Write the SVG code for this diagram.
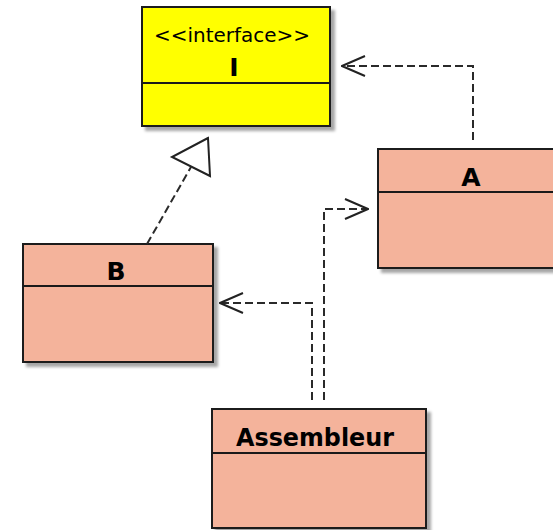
<svg xmlns="http://www.w3.org/2000/svg" width="553" height="530" viewBox="0 0 553 530">
  <defs>
    <filter id="shadow" x="-10%" y="-10%" width="130%" height="130%">
      <feDropShadow dx="4" dy="4" stdDeviation="1.5" flood-color="#000" flood-opacity="0.35"/>
    </filter>
    <marker id="open" viewBox="0 0 26 22" refX="25" refY="11" markerWidth="26" markerHeight="22" markerUnits="userSpaceOnUse" orient="auto">
      <path d="M2 1 L25 11 L2 21" fill="none" stroke="#222" stroke-width="2"/>
    </marker>
    <style>
      .box { stroke: #1a1a1a; stroke-width: 2; }
      .iface { fill: #FFFF00; }
      .cls { fill: #F4B39B; }
      .sep { stroke: #1a1a1a; stroke-width: 2; }
      .name { font-family: "DejaVu Sans", sans-serif; font-weight: bold; font-size: 25px; fill: #000; text-anchor: middle; }
      .stereo { font-family: "DejaVu Sans", sans-serif; font-size: 20px; fill: #000; text-anchor: middle; }
      .dep { fill: none; stroke: #2a2a2a; stroke-width: 2; stroke-dasharray: 8 4; }
    </style>
  </defs>
  <rect width="553" height="530" fill="#fff"/>

  <!-- interface I -->
  <g id="I">
    <rect class="box iface" x="142" y="7" width="188" height="119" filter="url(#shadow)"/>
    <line class="sep" x1="142" y1="83" x2="330" y2="83"/>
    <text class="stereo" x="232" y="42" textLength="156" lengthAdjust="spacingAndGlyphs">&lt;&lt;interface&gt;&gt;</text>
    <text class="name" x="234" y="76">I</text>
  </g>

  <!-- class A -->
  <g id="A">
    <rect class="box cls" x="378" y="149" width="190" height="119" filter="url(#shadow)"/>
    <line class="sep" x1="378" y1="192" x2="568" y2="192"/>
    <text class="name" x="471" y="186">A</text>
  </g>

  <!-- class B -->
  <g id="B">
    <rect class="box cls" x="23" y="244" width="190" height="118" filter="url(#shadow)"/>
    <line class="sep" x1="23" y1="286" x2="213" y2="286"/>
    <text class="name" x="116" y="280">B</text>
  </g>

  <!-- class Assembleur -->
  <g id="Assembleur">
    <rect class="box cls" x="212" y="409" width="214" height="119" filter="url(#shadow)"/>
    <line class="sep" x1="212" y1="453" x2="426" y2="453"/>
    <text class="name" x="315" y="446" textLength="158" lengthAdjust="spacingAndGlyphs">Assembleur</text>
  </g>

  <g id="connectors">
    <!-- A realises I -->
    <path class="dep" d="M473 140 V66 H342" marker-end="url(#open)"/>
    <!-- B realises I -->
    <path class="dep" d="M147 244 L191 167"/>
    <polygon points="208,138 172,157 210,176" fill="#fff" stroke="#222" stroke-width="2" stroke-linejoin="miter"/>
    <!-- Assembleur uses B -->
    <path class="dep" d="M312 400 V303 H220" marker-end="url(#open)"/>
    <!-- Assembleur uses A -->
    <path class="dep" d="M324 400 V209 H368" marker-end="url(#open)"/>
  </g>
</svg>
